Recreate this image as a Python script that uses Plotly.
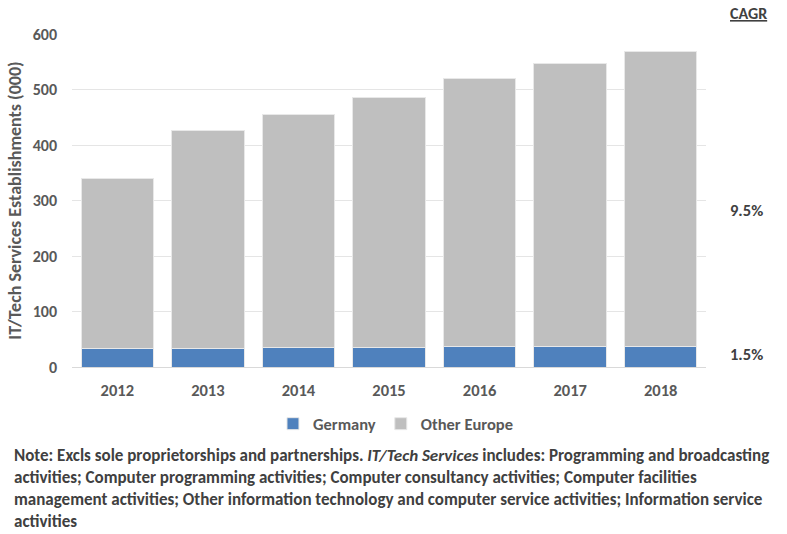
import plotly.graph_objects as go

years = ["2012", "2013", "2014", "2015", "2016", "2017", "2018"]
germany = [33.5, 33.5, 35.3, 35.3, 36.6, 36.6, 36.6]
other_europe = [305.5, 392.5, 419.7, 450.7, 483.4, 510.4, 532.4]
cagr_labels = ["9.5%", "1.5%"]
cagr_y = [282, 24]

FONT = "Carlito, Lato, sans-serif"
TXT = "#595959"
DARK = "#404040"

fig = go.Figure()
fig.add_bar(x=years, y=germany, name="<b>Germany</b>",
            marker=dict(color="#4F81BD", line=dict(color="#E8E8E8", width=1)))
fig.add_bar(x=years, y=other_europe, name="<b>Other Europe</b>",
            marker=dict(color="#BFBFBF", line=dict(color="#E8E8E8", width=1)))

annotations = [
    dict(text="<b><u>CAGR</u></b>", xref="paper", yref="paper", x=1.035, y=1.062,
         xanchor="left", yanchor="middle", showarrow=False,
         font=dict(family=FONT, size=16, color=DARK)),
]
for lab, yy in zip(cagr_labels, cagr_y):
    annotations.append(dict(text="<b>" + lab + "</b>", xref="paper", yref="y", x=1.035, y=yy,
                            xanchor="left", yanchor="middle", showarrow=False,
                            font=dict(family=FONT, size=16.5, color=DARK)))
note = ("<b>Note: Excls sole proprietorships and partnerships. <i>IT/Tech Services</i> includes: Programming and broadcasting<br>"
        "activities; Computer programming activities; Computer consultancy activities; Computer facilities<br>"
        "management activities; Other information technology and computer service activities; Information service<br>"
        "activities</b>")
annotations.append(dict(text=note, xref="paper", yref="paper", x=-0.0946, y=-0.228,
                        xanchor="left", yanchor="top", align="left", showarrow=False,
                        font=dict(family=FONT, size=17, color=DARK)))

fig.update_layout(
    width=787, height=534,
    margin=dict(l=72, r=81, t=34, b=167),
    barmode="stack", bargap=0.2,
    plot_bgcolor="white", paper_bgcolor="white",
    font=dict(family=FONT, size=16, color=TXT),
    showlegend=True,
    legend=dict(orientation="h", x=0.511, y=-0.171, xanchor="center", yanchor="middle",
                font=dict(family=FONT, size=16.5, color=TXT), traceorder="normal"),
    xaxis=dict(tickfont=dict(family=FONT, size=16.5, color=TXT), showline=True,
               linecolor="#D9D9D9", ticks="", ticklabelstandoff=8,
               tickprefix="<b>", ticksuffix="</b>"),
    yaxis=dict(range=[0, 600], dtick=100, gridcolor="#E5E5E5", zeroline=False,
               tickfont=dict(family=FONT, size=16, color=TXT), ticks="", ticklabelstandoff=14,
               tickprefix="<b>", ticksuffix="</b>", automargin=False,
               title=dict(text="<b>IT/Tech Services Establishments (000)</b>", standoff=6,
                          font=dict(family=FONT, size=18, color=TXT))),
    annotations=annotations,
)
fig.write_html("out.html", config={"displayModeBar": False},
               post_script="document.body.style.margin='0';")
